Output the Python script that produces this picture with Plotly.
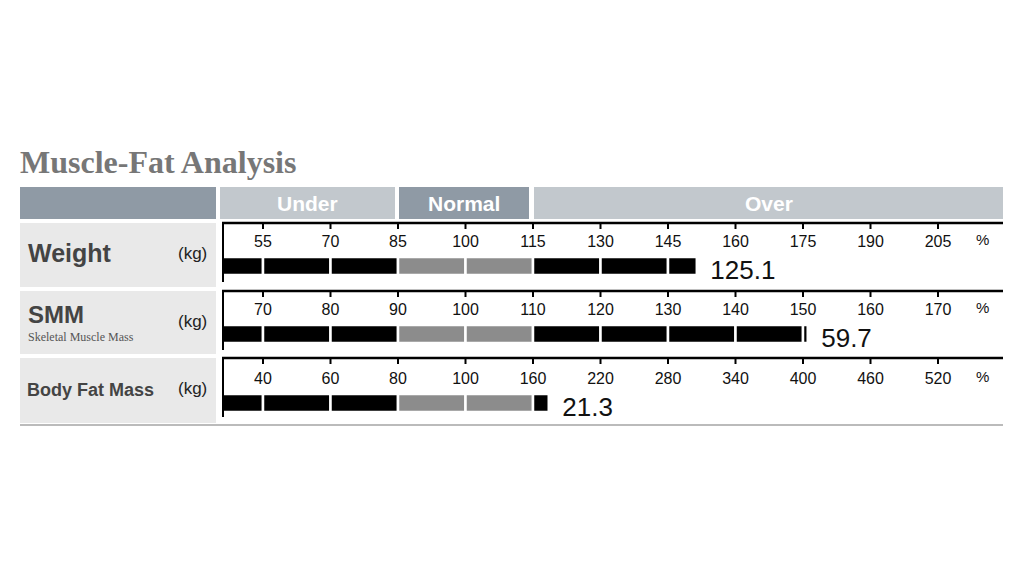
import plotly.graph_objects as go

rows = ["Weight", "SMM", "Body Fat Mass"]
tick_labels = [
    ["55", "70", "85", "100", "115", "130", "145", "160", "175", "190", "205"],
    ["70", "80", "90", "100", "110", "120", "130", "140", "150", "160", "170"],
    ["40", "60", "80", "100", "160", "220", "280", "340", "400", "460", "520"],
]
percent_values = [151.4, 150.7, 174.0]
value_labels = ["125.1", "59.7", "21.3"]
headers = ["Under", "Normal", "Over"]

# layout helpers (pixel geometry)
X0, S = 263.0, 67.5
def u(px):
    return (px - X0) / S
row_y = [266, 334, 403]
axis_y = [223, 291, 358]
row_bg = [(223, 287), (291, 354), (358, 423)]

def pct_to_u(p, ticks):
    t = [float(v) for v in ticks]
    for k in range(len(t) - 1):
        if p <= t[k + 1]:
            return k + (p - t[k]) / (t[k + 1] - t[k])
    return len(t) - 1

fig = go.Figure()
shapes, ann = [], []
font = "Liberation Sans, Arial, sans-serif"

for i, name in enumerate(rows):
    end = pct_to_u(percent_values[i], tick_labels[i])
    edges = [-0.6] + [k for k in range(11) if -0.6 < k < end] + [end]
    bases, lens, cols = [], [], []
    for a, b in zip(edges[:-1], edges[1:]):
        bases.append(a)
        lens.append(b - a)
        cols.append("#8c8c8c" if 2 <= a < 4 else "#000000")
    fig.add_trace(go.Bar(orientation="h", y=[row_y[i]] * len(lens), x=lens, base=bases,
                         width=18, marker=dict(color=cols, line=dict(color="white", width=2.5)),
                         showlegend=False, hoverinfo="skip"))
    fig.add_trace(go.Scatter(x=[end + 0.2], y=[row_y[i] + 6], mode="text", text=[value_labels[i]],
                             textposition="middle right", textfont=dict(size=26, color="#111", family=font),
                             showlegend=False, hoverinfo="skip"))
    fig.add_trace(go.Scatter(x=list(range(11)), y=[row_y[i] - 23] * 11, mode="text", text=tick_labels[i],
                             textfont=dict(size=16, color="#111", family=font), showlegend=False, hoverinfo="skip"))
    ann.append(dict(x=u(982), y=row_y[i] - 27, text="%", showarrow=False, font=dict(size=15, color="#111", family=font)))
    shapes.append(dict(type="rect", x0=u(20), x1=u(216), y0=row_bg[i][0], y1=row_bg[i][1], fillcolor="#e9e9e9", line_width=0, layer="below"))
    shapes.append(dict(type="line", x0=u(222), x1=u(1003), y0=axis_y[i], y1=axis_y[i], line=dict(color="black", width=2.5)))
    shapes.append(dict(type="line", x0=u(223), x1=u(223), y0=axis_y[i], y1=axis_y[i] + 59, line=dict(color="black", width=2)))
    for k in range(11):
        shapes.append(dict(type="line", x0=k, x1=k, y0=axis_y[i], y1=axis_y[i] + 6, line=dict(color="black", width=2)))

ann += [
    dict(x=u(26), y=253, text="<b>Weight</b>", xanchor="left", showarrow=False, font=dict(size=25, color="#444", family=font)),
    dict(x=u(26), y=314, text="<b>SMM</b>", xanchor="left", showarrow=False, font=dict(size=24, color="#444", family=font)),
    dict(x=u(26), y=337, text="Skeletal Muscle Mass", xanchor="left", showarrow=False, font=dict(size=12, color="#555", family="Liberation Serif, serif")),
    dict(x=u(25), y=390, text="<b>Body Fat Mass</b>", xanchor="left", showarrow=False, font=dict(size=18, color="#444", family=font)),
]
for y in [253, 321, 388]:
    ann.append(dict(x=u(192), y=y, text="(kg)", showarrow=False, font=dict(size=17, color="#222", family=font)))

for x0, x1, col, txt in [(20, 216, "#8f9aa5", ""), (220, 395, "#c2c8cd", headers[0]),
                         (399, 529, "#8f9aa5", headers[1]), (534, 1003, "#c2c8cd", headers[2])]:
    shapes.append(dict(type="rect", x0=u(x0), x1=u(x1), y0=187, y1=219, fillcolor=col, line_width=0, layer="below"))
    if txt:
        ann.append(dict(x=u((x0 + x1) / 2), y=203, text="<b>" + txt + "</b>", showarrow=False, font=dict(size=21, color="white", family=font)))
shapes.append(dict(type="line", x0=u(20), x1=u(1003), y0=425, y1=425, line=dict(color="#bbbbbb", width=2)))
ann.append(dict(x=u(18), y=162, text="<b>Muscle-Fat Analysis</b>", xanchor="left", showarrow=False,
                font=dict(size=32, color="#777", family="Liberation Serif, Times New Roman, serif")))

fig.update_layout(width=1024, height=576, margin=dict(l=0, r=0, t=0, b=0),
                  paper_bgcolor="white", plot_bgcolor="white", barmode="overlay",
                  shapes=shapes, annotations=ann,
                  xaxis=dict(range=[u(8), u(1032)], visible=False, fixedrange=True),
                  yaxis=dict(range=[584, 8], visible=False, fixedrange=True))
fig.write_html("out.html")
